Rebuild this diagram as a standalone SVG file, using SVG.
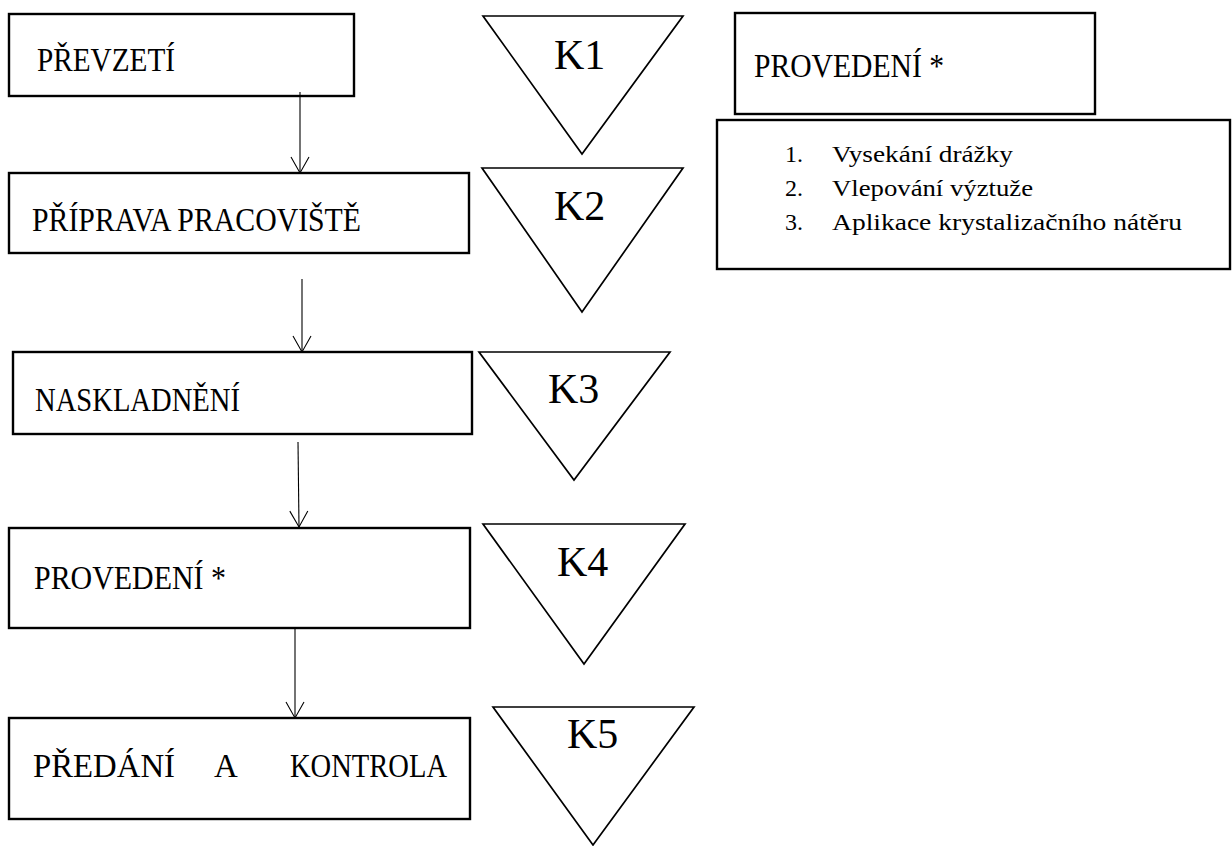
<svg xmlns="http://www.w3.org/2000/svg" width="1232" height="846" viewBox="0 0 1232 846">
<style>
.box{fill:#fff;stroke:#000;stroke-width:2.4}
.tri{fill:#fff;stroke:#000;stroke-width:1.7;stroke-linejoin:miter}
.lbl{font-family:"Liberation Serif","Times New Roman",serif;font-size:33px;fill:#000}
.k{font-family:"Liberation Serif","Times New Roman",serif;font-size:42px;fill:#000}
.li{font-family:"Liberation Serif","Times New Roman",serif;font-size:24px;fill:#000}
.conn line{stroke:#000;stroke-width:1.1}
</style>
<defs>
<marker id="arr" markerUnits="userSpaceOnUse" markerWidth="20" markerHeight="22" viewBox="-18 -11 20 22" refX="0" refY="0" orient="auto">
<path d="M-16,-9 L0,0 L-16,9" fill="none" stroke="#000" stroke-width="1.1"/>
</marker>
</defs>
<rect width="1232" height="846" fill="#fff"/>
<g id="n1"><rect class="box" x="9" y="14" width="345" height="82"/><text class="lbl" x="37" y="71" textLength="138" lengthAdjust="spacingAndGlyphs">PŘEVZETÍ</text></g>
<g id="n2"><rect class="box" x="9" y="173" width="460" height="80"/><text class="lbl" x="32" y="231" textLength="329" lengthAdjust="spacingAndGlyphs">PŘÍPRAVA PRACOVIŠTĚ</text></g>
<g id="n3"><rect class="box" x="13" y="352" width="459" height="82"/><text class="lbl" x="35" y="411" textLength="205" lengthAdjust="spacingAndGlyphs">NASKLADNĚNÍ</text></g>
<g id="n4"><rect class="box" x="9" y="528" width="461" height="100"/><text class="lbl" x="34" y="589" textLength="192" lengthAdjust="spacingAndGlyphs">PROVEDENÍ *</text></g>
<g id="n5"><rect class="box" x="9" y="718" width="461" height="101"/><text class="lbl" y="777"><tspan x="33" textLength="142" lengthAdjust="spacingAndGlyphs">PŘEDÁNÍ</tspan><tspan x="214">A</tspan><tspan x="290" textLength="157" lengthAdjust="spacingAndGlyphs">KONTROLA</tspan></text></g>
<g id="k1"><polygon class="tri" points="483,16 683,16 582,154"/><text class="k" x="554" y="69">K1</text></g>
<g id="k2"><polygon class="tri" points="482,168 683,168 582,312"/><text class="k" x="554" y="220">K2</text></g>
<g id="k3"><polygon class="tri" points="479,352 670,352 574,480"/><text class="k" x="548" y="403">K3</text></g>
<g id="k4"><polygon class="tri" points="483,524 685,524 584,664"/><text class="k" x="557" y="576">K4</text></g>
<g id="k5"><polygon class="tri" points="493,707 694,707 593,845"/><text class="k" x="567" y="748">K5</text></g>
<g id="prov"><rect class="box" x="735" y="13" width="360" height="101"/><text class="lbl" x="754" y="77" textLength="190" lengthAdjust="spacingAndGlyphs">PROVEDENÍ *</text></g>
<g id="steps"><rect class="box" x="717" y="120" width="513" height="149"/>
<text class="li" x="785" y="162">1.</text><text class="li" x="832" y="162" textLength="181" lengthAdjust="spacingAndGlyphs">Vysekání drážky</text>
<text class="li" x="785" y="196">2.</text><text class="li" x="832" y="196" textLength="201" lengthAdjust="spacingAndGlyphs">Vlepování výztuže</text>
<text class="li" x="785" y="230">3.</text><text class="li" x="832" y="230" textLength="350" lengthAdjust="spacingAndGlyphs">Aplikace krystalizačního nátěru</text>
</g>
<g id="connectors" class="conn">
<line x1="300" y1="92" x2="300" y2="173" marker-end="url(#arr)"/>
<line x1="302" y1="279" x2="302" y2="352" marker-end="url(#arr)"/>
<line x1="298" y1="442" x2="299" y2="527" marker-end="url(#arr)"/>
<line x1="295" y1="628" x2="295" y2="718" marker-end="url(#arr)"/>
</g>
</svg>
